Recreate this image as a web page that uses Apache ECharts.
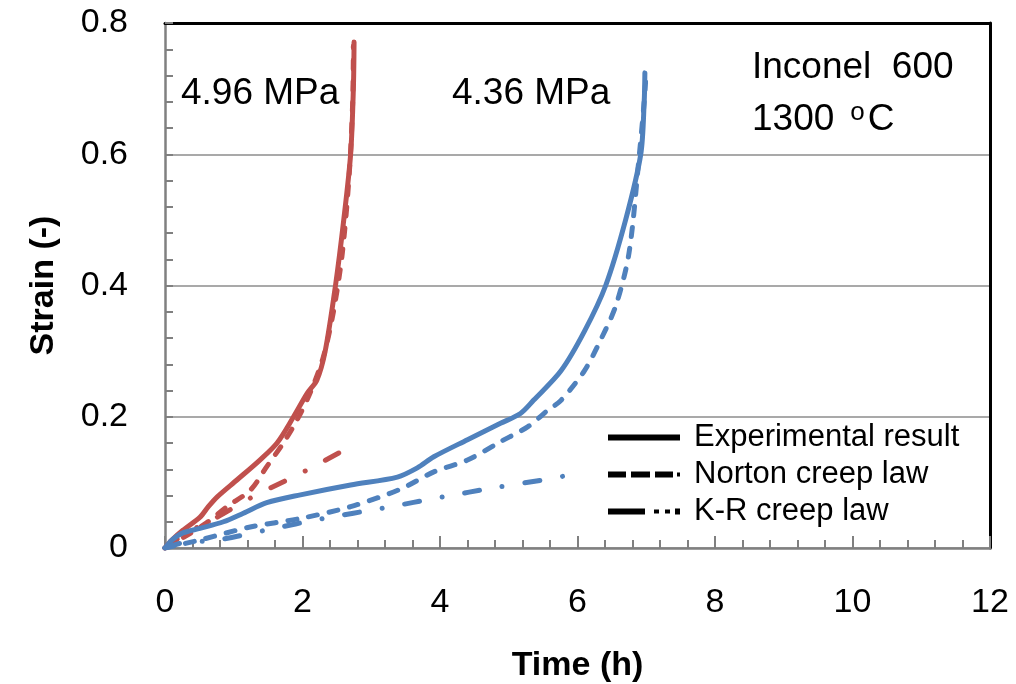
<!DOCTYPE html>
<html>
<head>
<meta charset="utf-8">
<script src="https://cdn.jsdelivr.net/npm/echarts@6/dist/echarts.min.js"></script>
<style>
html,body{margin:0;padding:0;background:#fff;}
#chart{width:1016px;height:684px;}
</style>
</head>
<body>
<div id="chart"></div>
<script>
// ---- data (time in h, strain in -) ----
const xTicks = [0, 2, 4, 6, 8, 10, 12];
const yTicks = [0, 0.2, 0.4, 0.6, 0.8];

const red_exp_t = [0, 0.1, 0.26, 0.51, 0.63, 0.76, 1.05, 1.38, 1.63, 1.87, 2.07, 2.21, 2.33, 2.48, 2.6, 2.7, 2.74, 2.75];
const red_exp_s = [0, 0.012, 0.027, 0.047, 0.063, 0.078, 0.104, 0.134, 0.16, 0.2, 0.236, 0.256, 0.3, 0.4, 0.5, 0.6, 0.7, 0.771];

const red_nor_t = [0, 0.3, 0.6, 0.9, 1.24, 1.48, 1.72, 1.92, 2.11, 2.3, 2.45, 2.58, 2.68, 2.73, 2.74];
const red_nor_s = [0, 0.018, 0.038, 0.063, 0.088, 0.124, 0.16, 0.195, 0.236, 0.29, 0.36, 0.45, 0.57, 0.68, 0.765];

const red_kr_t = [0, 0.3, 0.76, 1.24, 1.78, 2.07, 2.62];
const red_kr_s = [0, 0.022, 0.047, 0.076, 0.104, 0.119, 0.15];

const blue_exp_t = [0, 0.1, 0.26, 0.51, 0.85, 1.14, 1.48, 1.97, 2.7, 3.38, 3.67, 3.91, 4.4, 4.88, 5.17, 5.36, 5.76, 6.1, 6.41, 6.7, 6.92, 6.97, 6.98];
const blue_exp_s = [0, 0.012, 0.023, 0.03, 0.04, 0.053, 0.069, 0.081, 0.096, 0.108, 0.122, 0.139, 0.165, 0.19, 0.205, 0.225, 0.27, 0.33, 0.4, 0.5, 0.6, 0.68, 0.724];

const blue_nor_t = [0, 0.5, 1.24, 1.97, 2.7, 3.43, 3.91, 4.4, 4.88, 5.28, 5.57, 5.76, 6.1, 6.35, 6.56, 6.75, 6.9, 6.97, 6.99];
const blue_nor_s = [0, 0.012, 0.032, 0.045, 0.063, 0.09, 0.116, 0.134, 0.162, 0.185, 0.21, 0.225, 0.27, 0.32, 0.37, 0.45, 0.6, 0.68, 0.71];

const blue_kr_t = [0, 0.26, 0.76, 1.5, 2.3, 3.18, 4.05, 4.8, 5.57, 5.87];
const blue_kr_s = [0, 0.008, 0.012, 0.028, 0.045, 0.061, 0.078, 0.092, 0.105, 0.111];

const legendNames = ['Experimental result', 'Norton creep law', 'K-R creep law'];
const stressLabels = ['4.96 MPa', '4.36 MPa'];
const materialText = ['Inconel  600', '1300'];

// ---- build ----
const pair = (t, s) => t.map((v, i) => [v, s[i]]);
const RED = '#C0504D', BLUE = '#4F81BD';
const DASH = [9, 12];
const DASHDOT = [15, 23, 0.01, 23];
const LW = 5;

// legend icon shapes (solid, dashed, dash-dot)
const ICONS = [
  'path://M0,0H72V6H0Z',
  'path://M0,0H18V6H0Z M23,0H42V6H23Z M47,0H65V6H47Z M69,1H72V5H69Z',
  'path://M0,0H37V6H0Z M46,1H51V5H46Z M57,1H62V5H57Z M67,0H72V6H67Z'
];

function ser(name, data, color, type) {
  return {
    name: name, type: 'line', data: data, symbol: 'none', smooth: 0.3,
    xAxisIndex: 0, yAxisIndex: 0,
    lineStyle: { color: color, width: LW, type: type, cap: 'round', join: 'round' },
    itemStyle: { color: color },
    z: 3, animation: false
  };
}

const FONT = 'Liberation Sans, Arial, sans-serif';
const chart = echarts.init(document.getElementById('chart'), null, { renderer: 'canvas' });

const series = [
  ser('r_exp', pair(red_exp_t, red_exp_s), RED, 'solid'),
  ser('r_nor', pair(red_nor_t, red_nor_s), RED, DASH),
  ser('r_kr', pair(red_kr_t, red_kr_s), RED, DASHDOT),
  ser('b_exp', pair(blue_exp_t, blue_exp_s), BLUE, 'solid'),
  ser('b_nor', pair(blue_nor_t, blue_nor_s), BLUE, DASH),
  ser('b_kr', pair(blue_kr_t, blue_kr_s), BLUE, DASHDOT),
  ser(legendNames[0], [], '#000', 'solid'),
  ser(legendNames[1], [], '#000', 'solid'),
  ser(legendNames[2], [], '#000', 'solid')
];

const option = {
  animation: false,
  backgroundColor: '#fff',
  grid: { left: 165, right: 26, top: 23, bottom: 136, containLabel: false, outerBoundsMode: 'none' },
  legend: {
    data: legendNames.map((n, i) => ({ name: n, icon: ICONS[i] })),
    orient: 'vertical',
    left: 608, top: 422,
    itemWidth: 72, itemHeight: 6, itemGap: 6,
    padding: 0,
    itemStyle: { color: '#000', borderWidth: 0 },
    lineStyle: { width: 0 },
    textStyle: { fontFamily: FONT, fontSize: 31, color: '#000', padding: [0, 0, 0, 9] },
    selectedMode: false
  },
  xAxis: [{
    type: 'value', min: 0, max: 12, interval: 2,
    axisLine: { show: true, lineStyle: { color: '#808080', width: 2.5 } },
    axisTick: { show: true, inside: true, length: 12, lineStyle: { color: '#808080', width: 2 } },
    minorTick: { show: true, splitNumber: 5, length: 8, lineStyle: { color: '#808080', width: 2 } },
    splitLine: { show: false },
    axisLabel: { fontFamily: FONT, fontSize: 34, color: '#000', margin: 38 },
    name: 'Time (h)', nameLocation: 'middle', nameGap: 101,
    nameTextStyle: { fontFamily: FONT, fontSize: 34, fontWeight: 'bold', color: '#000' }
  }, {
    type: 'value', min: 0, max: 12, position: 'top',
    axisLine: { show: true, onZero: false, lineStyle: { color: '#000', width: 3 } },
    axisTick: { show: false }, axisLabel: { show: false }, splitLine: { show: false }
  }],
  yAxis: [{
    type: 'value', min: 0, max: 0.8, interval: 0.2,
    axisLine: { show: true, lineStyle: { color: '#808080', width: 2.5 } },
    axisTick: { show: true, inside: true, length: 8, lineStyle: { color: '#808080', width: 2 } },
    minorTick: { show: true, splitNumber: 5, length: 8, lineStyle: { color: '#808080', width: 2 } },
    splitLine: { show: true, lineStyle: { color: '#8c8c8c', width: 1.5 } },
    axisLabel: {
      fontFamily: FONT, fontSize: 34, color: '#000', margin: 37,
      formatter: v => (v === 0 ? '0' : v.toFixed(1))
    },
    name: 'Strain (-)', nameLocation: 'middle', nameGap: 104, nameRotate: 90,
    nameTextStyle: { fontFamily: FONT, fontSize: 34, fontWeight: 'bold', color: '#000' }
  }, {
    type: 'value', min: 0, max: 0.8, position: 'right',
    axisLine: { show: true, onZero: false, lineStyle: { color: '#000', width: 3 } },
    axisTick: { show: false }, axisLabel: { show: false }, splitLine: { show: false }
  }],
  graphic: [
    { type: 'text', x: 181, y: 94, style: { text: stressLabels[0], font: '37px ' + FONT, fill: '#000', verticalAlign: 'middle' }, z: 10 },
    { type: 'text', x: 452, y: 94, style: { text: stressLabels[1], font: '37px ' + FONT, fill: '#000', verticalAlign: 'middle' }, z: 10 },
    { type: 'text', x: 752, y: 68, style: { text: materialText[0], font: '37px ' + FONT, fill: '#000', verticalAlign: 'middle' }, z: 10 },
    { type: 'text', x: 752, y: 120, style: {
        text: '{a|' + materialText[1] + '}{s|o}{a|C}',
        verticalAlign: 'middle',
        rich: {
          a: { fontFamily: FONT, fontSize: 37, color: '#000' },
          s: { fontFamily: FONT, fontSize: 26, color: '#000', verticalAlign: 'top', padding: [0, 3, 14, 16] }
        }
      }, z: 10 }
  ],
  series: series
};
chart.setOption(option);
</script>
</body>
</html>
